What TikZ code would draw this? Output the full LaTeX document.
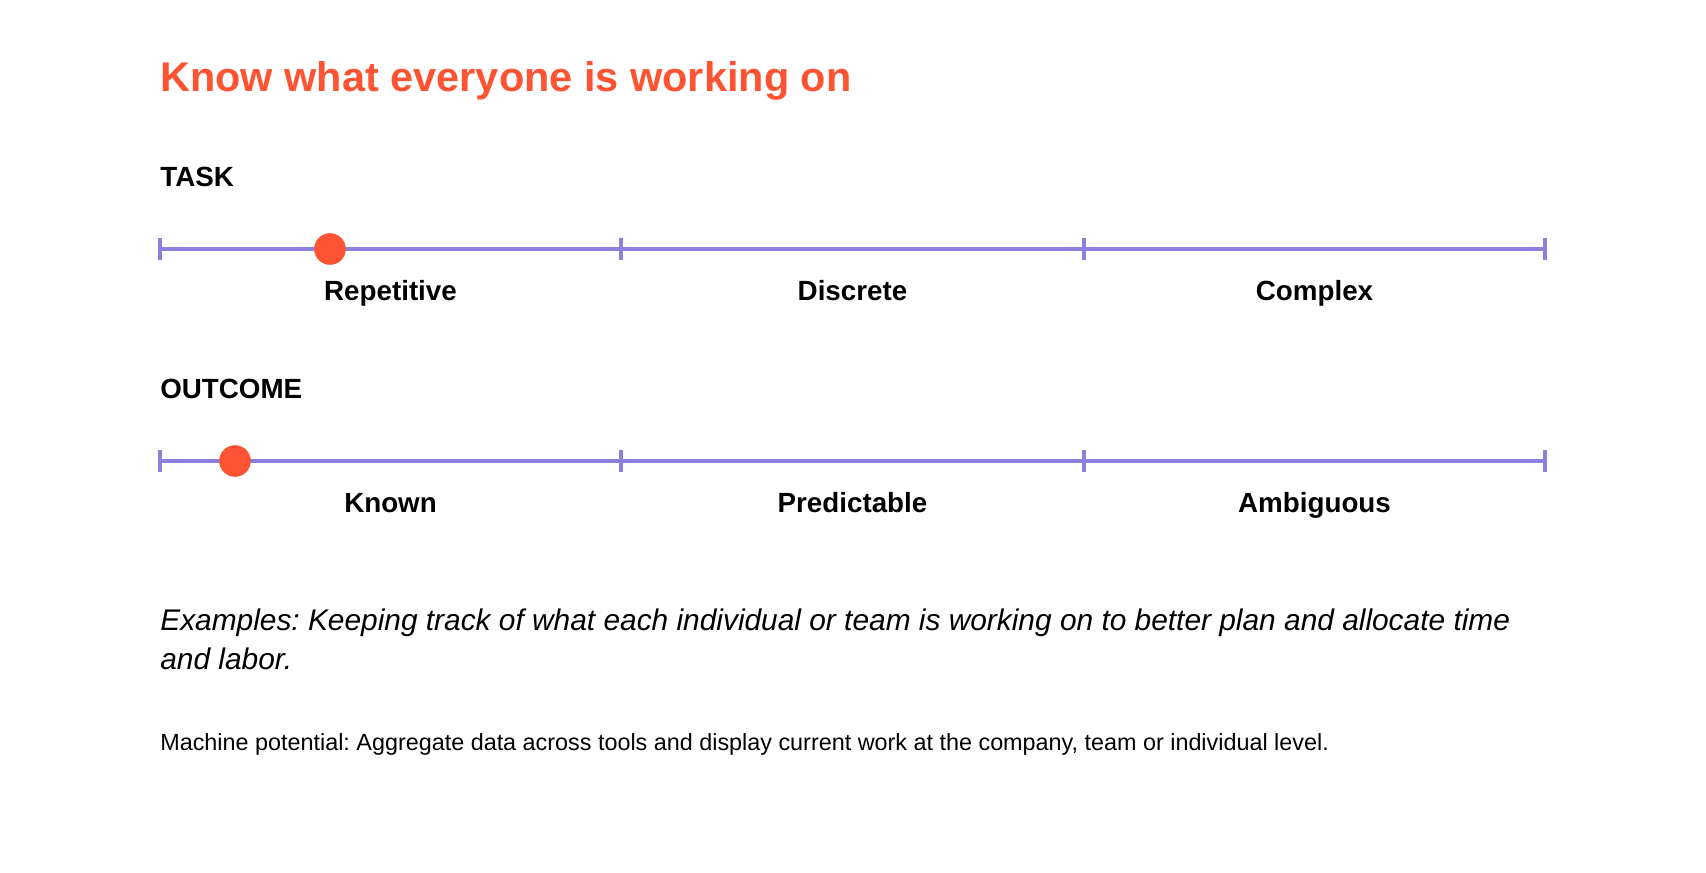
\documentclass[tikz,border=0pt]{standalone}
\usepackage{fontspec}
\setmainfont{Liberation Sans}
\frenchspacing
\definecolor{accentred}{RGB}{255,84,51}
\definecolor{scalecolor}{RGB}{139,128,222}

\begin{document}
\begin{tikzpicture}[
		x=0.02cm, y=-0.02cm,
		titletext/.style={anchor=base west, inner sep=0pt, text=accentred, font=\bfseries\fontsize{23.6}{28}\selectfont},
		axisname/.style={anchor=base west, inner sep=0pt, font=\bfseries\fontsize{15.8}{18}\selectfont},
		bandlabel/.style={anchor=base, inner sep=0pt, yshift=-29.5pt, font=\bfseries\fontsize{15.8}{18}\selectfont},
		notetext/.style={anchor=base west, inner sep=0pt, font=\itshape\fontsize{17}{20}\selectfont},
		smalltext/.style={anchor=base west, inner sep=0pt, font=\fontsize{13.3}{16}\selectfont},
		scaleline/.style={draw=scalecolor, line width=1.9pt},
		marker/.style={circle, fill=accentred, inner sep=0pt, minimum size=18pt}
		]
		\useasboundingbox (0,0) rectangle (1706,872);
		\node[titletext] (title) at (160,91) {Know what everyone is working on};
		% task scale
		\node[axisname] (task) at (160,186) {TASK};
		\foreach \i/\x in {0/160,1/621,2/1084,3/1545}
			\coordinate (task\i) at (\x,249);
		\draw[scaleline] (task0) -- (task3);
		\foreach \i in {0,...,3}
			\draw[scaleline] ([yshift=6.3pt]task\i) -- ([yshift=-6.3pt]task\i);
		\foreach \i/\j/\txt in {0/1/Repetitive,1/2/Discrete,2/3/Complex}
			\path (task\i) -- (task\j) node[midway, bandlabel] (task\txt) {\txt};
		\node[marker] (taskdot) at (330,249) {};
		% outcome scale
		\node[axisname] (outcome) at (160,398) {OUTCOME};
		\foreach \i/\x in {0/160,1/621,2/1084,3/1545}
			\coordinate (outcome\i) at (\x,461);
		\draw[scaleline] (outcome0) -- (outcome3);
		\foreach \i in {0,...,3}
			\draw[scaleline] ([yshift=6.3pt]outcome\i) -- ([yshift=-6.3pt]outcome\i);
		\foreach \i/\j/\txt in {0/1/Known,1/2/Predictable,2/3/Ambiguous}
			\path (outcome\i) -- (outcome\j) node[midway, bandlabel] (outcome\txt) {\txt};
		\node[marker] (outcomedot) at (235,461) {};
		% notes
		\node[notetext] (examples) at (160,630) {Examples: Keeping track of what each individual or team is working on to better plan and allocate time};
		\node[notetext] (examplesend) at (160,669) {and labor.};
		\node[smalltext] (machine) at (160,750) {Machine potential: Aggregate data across tools and display current work at the company, team or individual level.};
	\end{tikzpicture}
\end{document}
